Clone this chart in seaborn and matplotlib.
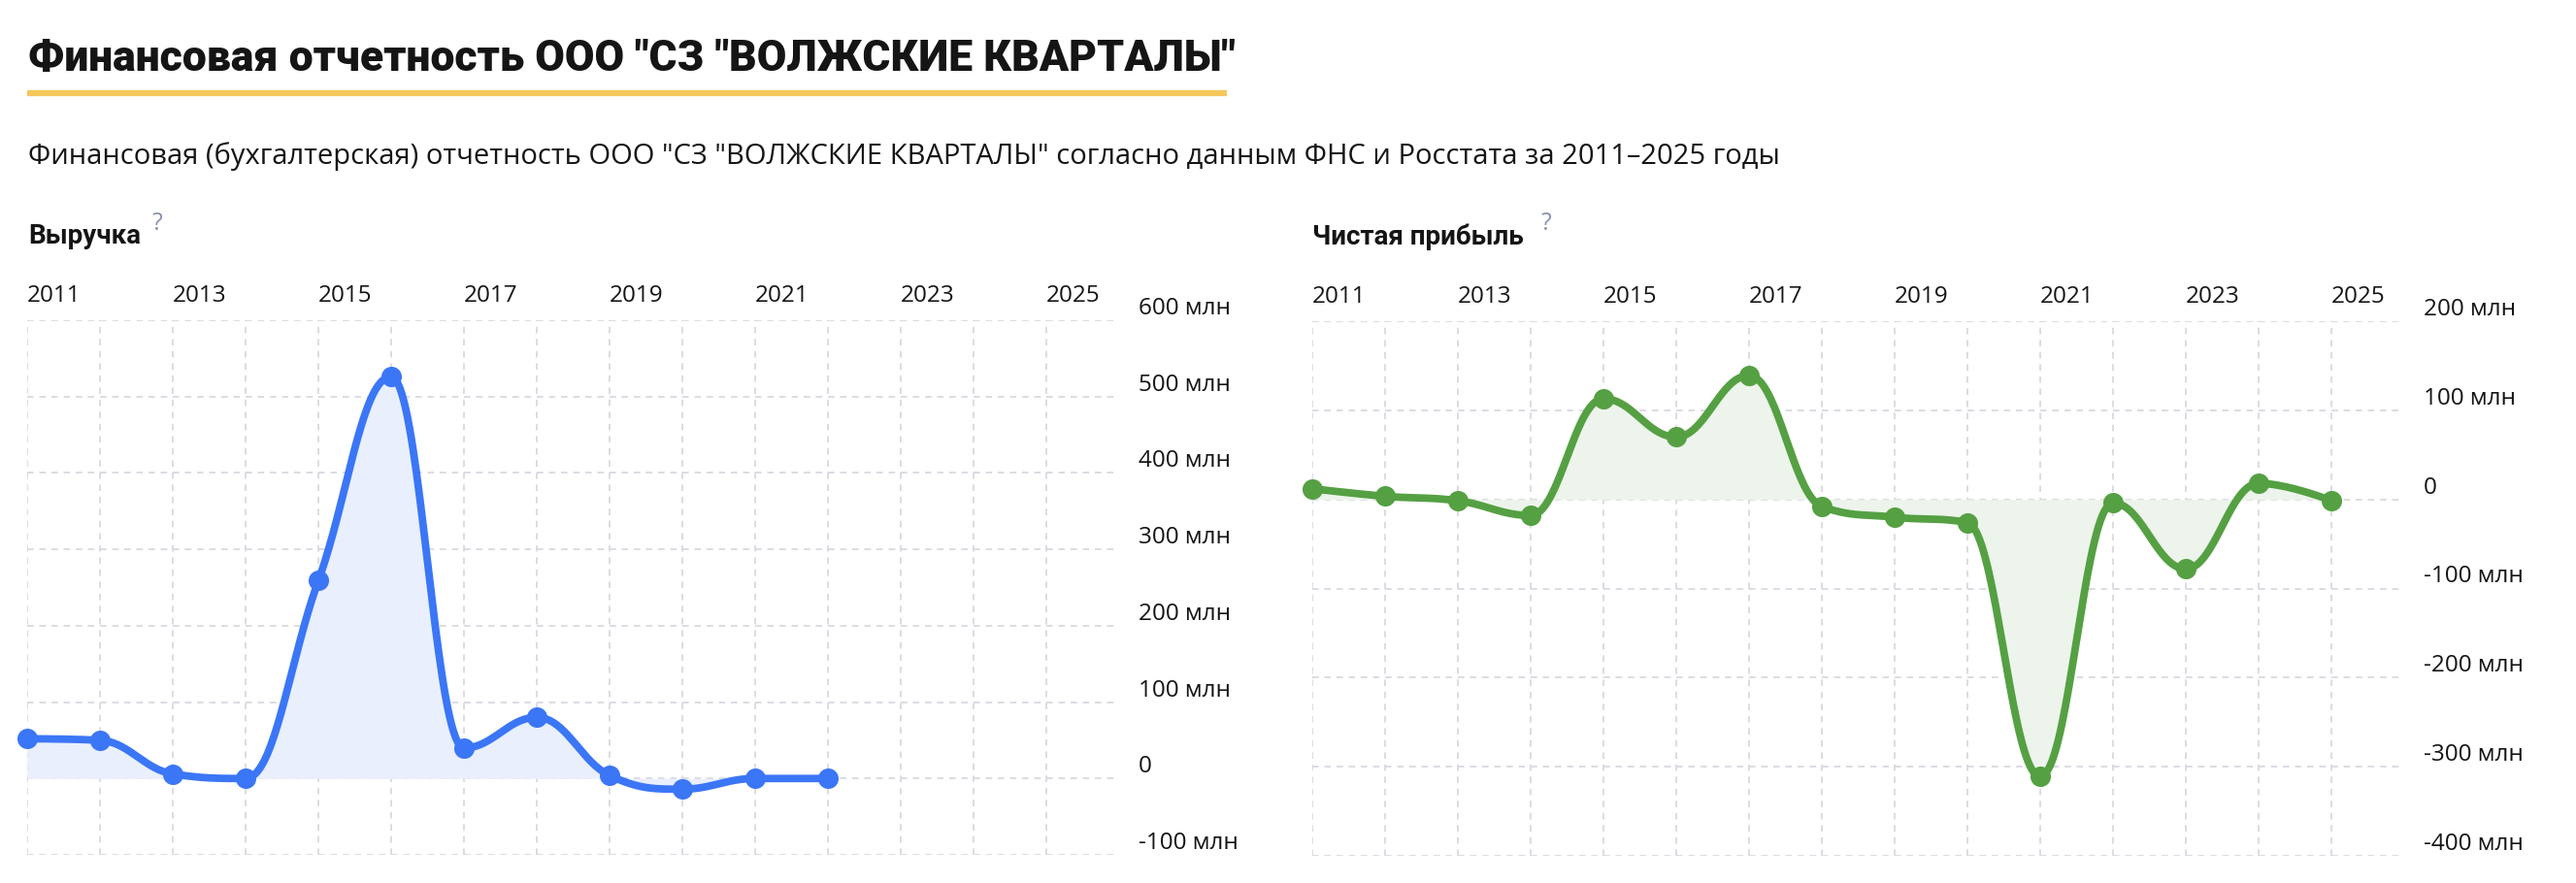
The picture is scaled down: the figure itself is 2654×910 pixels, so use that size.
import numpy as np
import pandas as pd
import matplotlib
matplotlib.use('Agg')
import matplotlib.pyplot as plt
import matplotlib.transforms as mtransforms
import seaborn as sns

# ---- data (млн руб.) ----
revenue_years = [2011, 2012, 2013, 2014, 2015, 2016, 2017, 2018, 2019, 2020, 2021, 2022]
revenue_values = [52, 50, 6, 0, 259, 526, 40, 80, 4, -14, 0, 0]

profit_years = [2011, 2012, 2013, 2014, 2015, 2016, 2017, 2018, 2019, 2020, 2021, 2022, 2023, 2024, 2025]
profit_values = [12, 3.5, -1.5, -18, 113, 70, 139, -8, -20, -26, -311, -4, -78, 18, -1.5]

grid_years = list(range(2011, 2026))
year_labels = ['2011', '2013', '2015', '2017', '2019', '2021', '2023', '2025']
revenue_ticks = [600, 500, 400, 300, 200, 100, 0, -100]
profit_ticks = [200, 100, 0, -100, -200, -300, -400]

title = 'Финансовая отчетность ООО "СЗ "ВОЛЖСКИЕ КВАРТАЛЫ"'
subtitle = ('Финансовая (бухгалтерская) отчетность ООО "СЗ "ВОЛЖСКИЕ КВАРТАЛЫ" '
            'согласно данным ФНС и Росстата за 2011–2025 годы')

BLUE = '#3b76f6'
BLUE_FILL = '#e9effc'
GREEN = '#55a043'
GREEN_FILL = '#edf4ec'
GRID = '#d6d6df'
TEXT = '#151515'
HEAD_FONT = ['Roboto', 'DejaVu Sans']

sns.set_theme(style='white')
plt.rcParams['font.family'] = ['Open Sans', 'DejaVu Sans']

W, H = 2654, 910
fig = plt.figure(figsize=(W / 100, H / 100), dpi=100)


def fmt(v):
    return '0' if v == 0 else f'{v} млн'


def spline(xs, ys, steps=40):
    '''Smooth path through the points (same rule as an areaspline chart).'''
    xs = np.asarray(xs, float)
    ys = np.asarray(ys, float)
    n = len(xs)
    lc = [(x, y) for x, y in zip(xs, ys)]
    rc = [(x, y) for x, y in zip(xs, ys)]
    s, d = 1.5, 2.5
    for i in range(1, n - 1):
        px, py = xs[i], ys[i]
        lx = (s * px + xs[i - 1]) / d
        ly = (s * py + ys[i - 1]) / d
        rx = (s * px + xs[i + 1]) / d
        ry = (s * py + ys[i + 1]) / d
        if rx != lx:
            corr = (ry - ly) * (rx - px) / (rx - lx) + py - ry
            ly += corr
            ry += corr
        if ly > ys[i - 1] and ly > py:
            ly = max(ys[i - 1], py)
            ry = 2 * py - ly
        elif ly < ys[i - 1] and ly < py:
            ly = min(ys[i - 1], py)
            ry = 2 * py - ly
        if ry > ys[i + 1] and ry > py:
            ry = max(ys[i + 1], py)
            ly = 2 * py - ry
        elif ry < ys[i + 1] and ry < py:
            ry = min(ys[i + 1], py)
            ly = 2 * py - ry
        lc[i] = (lx, ly)
        rc[i] = (rx, ry)
    t = np.linspace(0, 1, steps)[:, None]
    out = [np.array([[xs[0], ys[0]]])]
    for i in range(1, n):
        p0 = np.array([xs[i - 1], ys[i - 1]])
        p1 = np.array(rc[i - 1])
        p2 = np.array(lc[i])
        p3 = np.array([xs[i], ys[i]])
        seg = ((1 - t) ** 3) * p0 + 3 * ((1 - t) ** 2) * t * p1 + 3 * (1 - t) * t ** 2 * p2 + t ** 3 * p3
        out.append(seg[1:])
    pts = np.vstack(out)
    return pts[:, 0], pts[:, 1]


def draw_panel(rect, years, values, ticks, color, fill):
    ax = fig.add_axes(rect)
    ax.set_xlim(2011, 2026)
    ax.set_ylim(min(ticks), max(ticks))
    ax.set_xticks(grid_years)
    ax.set_yticks(ticks)
    ax.set_xticklabels([])
    ax.set_yticklabels([])
    ax.tick_params(length=0)
    for sp in ax.spines.values():
        sp.set_visible(False)
    ax.grid(True, color=GRID, linestyle=(0, (4, 3.5)), linewidth=1.2)
    ax.set_axisbelow(True)

    cx, cy = spline(years, values)
    curve = pd.DataFrame({'x': cx, 'y': cy})
    ax.fill_between(curve['x'], curve['y'], 0, color=fill, linewidth=0, zorder=1)
    sns.lineplot(data=curve, x='x', y='y', ax=ax, color=color, linewidth=5.6,
                 estimator=None, sort=False, zorder=3, clip_on=False)
    pts = pd.DataFrame({'year': years, 'value': values})
    sns.scatterplot(data=pts, x='year', y='value', ax=ax, color=color, s=230,
                    linewidth=0, zorder=4, clip_on=False)
    ax.set_xlabel('')
    ax.set_ylabel('')

    # year labels above the plot, left aligned at their grid line
    for lbl in year_labels:
        ax.text(int(lbl), 1 + 19 / 551, lbl, transform=ax.get_xaxis_transform(),
                ha='left', va='baseline', fontsize=17.5, color=TEXT)
    # value labels on the right, slightly above their grid line
    off = mtransforms.offset_copy(
        mtransforms.blended_transform_factory(ax.transAxes, ax.transData),
        fig=fig, x=20, y=12, units='dots')
    for v in ticks:
        ax.text(1, v, fmt(v), transform=off, ha='left', va='center',
                fontsize=17.5, color=TEXT)
    return ax


ax1 = draw_panel([28 / W, 1 - 881 / H, 1125 / W, 551 / H],
                 revenue_years, revenue_values, revenue_ticks, BLUE, BLUE_FILL)
ax2 = draw_panel([1352 / W, 1 - 882 / H, 1125 / W, 551 / H],
                 profit_years, profit_values, profit_ticks, GREEN, GREEN_FILL)

# header
fig.text(29 / W, 1 - 73 / H, title, fontsize=32, fontweight='heavy', color=TEXT,
         ha='left', va='baseline', family=HEAD_FONT)
fig.add_artist(plt.Line2D([28 / W, 1264 / W], [1 - 96 / H, 1 - 96 / H],
                          color='#f5c85c', linewidth=4.5, solid_capstyle='butt'))
fig.text(29 / W, 1 - 169 / H, subtitle, fontsize=21, color=TEXT,
         ha='left', va='baseline')

fig.text(29 / W, 1 - 251 / H, 'Выручка', fontsize=20, fontweight='bold',
         color=TEXT, ha='left', va='baseline', family=HEAD_FONT)
fig.text(157 / W, 1 - 237 / H, '?', fontsize=18, color='#8a93b0',
         ha='left', va='baseline')
fig.text(1352 / W, 1 - 252 / H, 'Чистая прибыль', fontsize=20, fontweight='bold',
         color=TEXT, ha='left', va='baseline', family=HEAD_FONT)
fig.text(1588 / W, 1 - 237 / H, '?', fontsize=18, color='#8a93b0',
         ha='left', va='baseline')

fig.savefig('out.png', dpi=100, facecolor='white')
